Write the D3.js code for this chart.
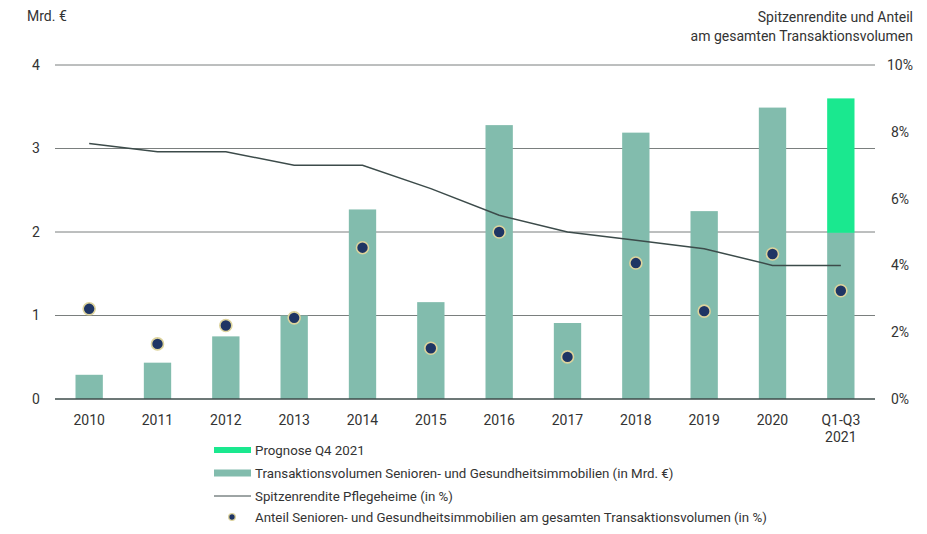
<!DOCTYPE html>
<html><head><meta charset="utf-8">
<script src="https://cdn.jsdelivr.net/npm/d3@7"></script>
<style>
body{margin:0;background:#fff;}
text{font-family:Roboto,"Liberation Sans",sans-serif;fill:#333;}
</style></head>
<body><svg id="c" width="927" height="534"></svg>
<script>
const categories = ["2010","2011","2012","2013","2014","2015","2016","2017","2018","2019","2020","Q1-Q3\n2021"];
const volume = [0.29,0.435,0.75,1.0,2.27,1.16,3.28,0.91,3.19,2.25,3.49,1.99];
const forecast = [0,0,0,0,0,0,0,0,0,0,0,1.61];
const yieldPct = [7.65,7.4,7.4,7.0,7.0,6.3,5.5,5.0,4.75,4.5,4.0,4.0];
const sharePct = [2.7,1.65,2.2,2.43,4.53,1.52,5.0,1.26,4.07,2.63,4.34,3.24];
const leftTicks = [0,1,2,3,4];
const rightTicks = [0,2,4,6,8,10];

const svg = d3.select("#c");
const x0 = 55, x1 = 875, yTop = 65, yBot = 399;
const x = d3.scaleBand().domain(categories).range([x0,x1]).paddingInner(0.6).paddingOuter(0.3);
const yL = d3.scaleLinear().domain([0,4]).range([yBot,yTop]);
const yR = d3.scaleLinear().domain([0,10]).range([yBot,yTop]);

// gridlines
svg.append("g").selectAll("line").data(leftTicks.filter(d=>d>0)).join("line")
  .attr("x1",x0).attr("x2",x1).attr("y1",d=>yL(d)).attr("y2",d=>yL(d))
  .attr("stroke","#7a7f7e").attr("stroke-width",1);
// left tick labels
svg.append("g").selectAll("text").data(leftTicks).join("text")
  .attr("x",36).attr("y",d=>yL(d)).attr("dy","0.35em").attr("text-anchor","middle")
  .attr("font-size",14).text(d=>d);
// right tick labels
svg.append("g").selectAll("text").data(rightTicks).join("text")
  .attr("x",900).attr("y",d=>yR(d)).attr("dy","0.35em").attr("text-anchor","middle")
  .attr("font-size",14).text(d=>d+"%");

// bars
svg.append("g").selectAll("rect").data(categories).join("rect")
  .attr("x",d=>x(d)).attr("width",x.bandwidth())
  .attr("y",(d,i)=>yL(volume[i])).attr("height",(d,i)=>yBot-yL(volume[i]))
  .attr("fill","#82bcad");
svg.append("g").selectAll("rect").data(categories.filter((d,i)=>forecast[i]>0)).join("rect")
  .attr("x",d=>x(d)).attr("width",x.bandwidth())
  .attr("y",d=>{const i=categories.indexOf(d);return yL(volume[i]+forecast[i]);})
  .attr("height",d=>{const i=categories.indexOf(d);return yL(volume[i])-yL(volume[i]+forecast[i]);})
  .attr("fill","#1ae88f");

// baseline
svg.append("line").attr("x1",x0).attr("x2",x1).attr("y1",yBot).attr("y2",yBot)
  .attr("stroke","#3c4b4a").attr("stroke-width",1.5);

// line
const cx = d=>x(d)+x.bandwidth()/2;
svg.append("path").datum(categories)
  .attr("d",d3.line().x(d=>cx(d)).y((d,i)=>yR(yieldPct[i])))
  .attr("fill","none").attr("stroke","#3c4b4a").attr("stroke-width",1.5);

// dots
svg.append("g").selectAll("circle").data(categories).join("circle")
  .attr("cx",d=>cx(d)).attr("cy",(d,i)=>yR(sharePct[i])).attr("r",6)
  .attr("fill","#1f3564").attr("stroke","#ddd39c").attr("stroke-width",1.6);

// x labels
const xl = svg.append("g").selectAll("text").data(categories).join("text")
  .attr("x",d=>cx(d)).attr("y",425).attr("text-anchor","middle").attr("font-size",14);
xl.each(function(d){
  const t=d3.select(this); d.split("\n").forEach((s,k)=>{
    t.append("tspan").attr("x",cx(d)).attr("dy",k?17:0).text(s);});
});

// axis titles
svg.append("text").attr("x",27).attr("y",21).attr("font-size",14).text("Mrd. €");
svg.append("text").attr("x",913).attr("y",22).attr("font-size",14).attr("text-anchor","end").text("Spitzenrendite und Anteil");
svg.append("text").attr("x",913).attr("y",41).attr("font-size",14).attr("text-anchor","end").text("am gesamten Transaktionsvolumen");

// legend
const lg = svg.append("g");
const rows = [
  {t:"Prognose Q4 2021", k:"rect", c:"#1ae88f", h:6},
  {t:"Transaktionsvolumen Senioren- und Gesundheitsimmobilien (in Mrd. €)", k:"rect", c:"#82bcad", h:7},
  {t:"Spitzenrendite Pflegeheime (in %)", k:"line"},
  {t:"Anteil Senioren- und Gesundheitsimmobilien am gesamten Transaktionsvolumen (in %)", k:"dot"}
];
const rowY = [450,473,496,517];
rows.forEach((r,i)=>{
  const y = rowY[i];
  if(r.k==="rect") lg.append("rect").attr("x",214).attr("y",y-r.h/2).attr("width",37).attr("height",r.h).attr("fill",r.c);
  else if(r.k==="line") lg.append("line").attr("x1",214).attr("x2",251).attr("y1",y).attr("y2",y).attr("stroke","#3c4b4a").attr("stroke-width",1);
  else lg.append("circle").attr("cx",232).attr("cy",y).attr("r",3.3).attr("fill","#1f3564").attr("stroke","#ddd39c").attr("stroke-width",1.3);
  lg.append("text").attr("x",255).attr("y",y).attr("dy","0.35em").attr("font-size",13.3).text(r.t);
});
</script></body></html>
